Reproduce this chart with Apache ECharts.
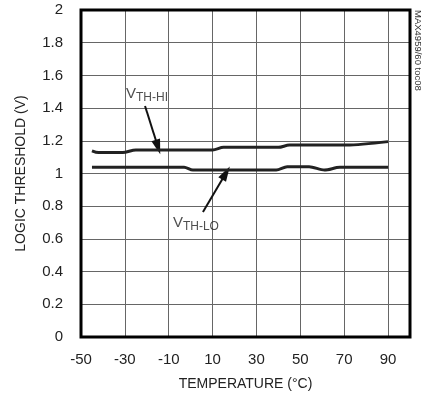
<!DOCTYPE html>
<html>
<head>
<meta charset="utf-8">
<script src="https://cdn.jsdelivr.net/npm/echarts@6/dist/echarts.min.js"></script>
<style>
html,body{margin:0;padding:0;background:#fff;}
#c{width:423px;height:401px;}
</style>
</head>
<body>
<div id="c"></div>
<script>
// Data
const xTicks = [-50, -30, -10, 10, 30, 50, 70, 90];
const vthHi = [[-45,1.139],[-42,1.128],[-31,1.128],[-25,1.144],[10,1.144],[15,1.16],[40,1.16],[45,1.174],[71,1.174],[90,1.195]];
const vthLo = [[-45,1.038],[-3,1.038],[1,1.021],[39,1.021],[44,1.041],[54,1.041],[61,1.021],[68,1.038],[90,1.038]];
const hiLabelPos = [-19.9, 1.486];
const loLabelPos = [2.4, 0.697];
const hiArrow = [[-20.8, 1.413], [-14.9, 1.162]];
const loArrow = [[5.6, 0.765], [16.1, 1.003]];

const FONT = '"Liberation Sans", Arial, sans-serif';
const chart = echarts.init(document.getElementById('c'));

function arrowLine(seg) {
  return {
    silent: true,
    symbol: ['none', 'triangle'],
    symbolSize: [9, 15],
    lineStyle: {color: '#111', width: 2, type: 'solid'},
    label: {show: false},
    data: [[{coord: seg[0]}, {coord: seg[1]}]]
  };
}

chart.setOption({
  animation: false,
  backgroundColor: '#fff',
  grid: {left: 81, right: 13, top: 10, bottom: 64, show: true, borderColor: '#000', borderWidth: 3, z: 10},
  xAxis: {
    type: 'value', min: -50, max: 100, interval: 20,
    name: 'TEMPERATURE (°C)', nameLocation: 'middle', nameGap: 40,
    nameTextStyle: {fontFamily: FONT, fontSize: 14, color: '#222'},
    axisLine: {show: false}, axisTick: {show: false},
    axisLabel: {fontFamily: FONT, fontSize: 15, color: '#222', margin: 15, showMaxLabel: false},
    splitLine: {show: true, lineStyle: {color: '#666', width: 1}}
  },
  yAxis: {
    type: 'value', min: 0, max: 2, interval: 0.2,
    name: 'LOGIC THRESHOLD (V)', nameLocation: 'middle', nameGap: 53,
    nameTextStyle: {fontFamily: FONT, fontSize: 14, color: '#222'},
    axisLine: {show: false}, axisTick: {show: false},
    axisLabel: {fontFamily: FONT, fontSize: 15, color: '#222', margin: 18,
      formatter: v => (Math.round(v * 10) / 10).toString()},
    splitLine: {show: true, lineStyle: {color: '#666', width: 1}}
  },
  series: [
    {type: 'line', data: vthHi, smooth: 0.3, showSymbol: false, lineStyle: {color: '#222', width: 3}, z: 5,
     markLine: arrowLine(hiArrow)},
    {type: 'line', data: vthLo, smooth: 0.3, showSymbol: false, lineStyle: {color: '#222', width: 3}, z: 5,
     markLine: arrowLine(loArrow)},
    {type: 'scatter', symbolSize: 0, silent: true, z: 6,
     data: [{value: hiLabelPos, name: 'TH-HI'}, {value: loLabelPos, name: 'TH-LO'}],
     label: {show: true, position: 'inside',
       formatter: p => '{v|V}{s|' + p.name + '}',
       rich: {
         v: {fontFamily: FONT, fontSize: 15, color: '#222', verticalAlign: 'bottom'},
         s: {fontFamily: FONT, fontSize: 12, color: '#222', verticalAlign: 'bottom', padding: [0, 0, -2, 0]}
       }}
    }
  ],
  graphic: [{
    type: 'text', x: 418, y: 10, rotation: -Math.PI / 2,
    style: {text: 'MAX4959/60 toc08', font: '9.5px ' + FONT, fill: '#333', textAlign: 'left', textVerticalAlign: 'middle'}
  }]
});
</script>
</body>
</html>
